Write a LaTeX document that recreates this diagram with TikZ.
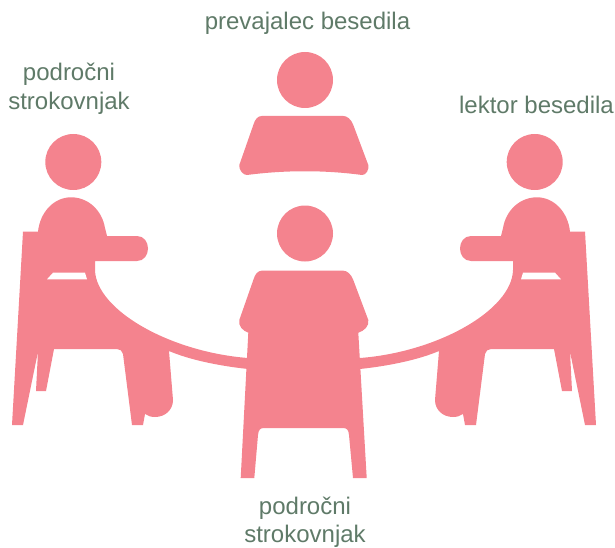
\documentclass[tikz,border=0pt]{standalone}
\usepackage{fontspec}
\setmainfont{Liberation Sans}
\definecolor{seatpink}{HTML}{F4838E}
\definecolor{labelgreen}{HTML}{5F7A68}
\tikzset{
  head/.style={circle, fill=seatpink, inner sep=0pt, minimum size=56pt},
  figure/.style={fill=seatpink, draw=none},
  gap/.style={fill=white, draw=none},
  role/.style={text=labelgreen, align=center, inner sep=0pt, font=\fontsize{24}{28.5}\selectfont},
}
% one sitter seen from the side, with his part of the table
\newcommand{\sidesitter}{%
  \fill[figure] (23,231.7) -- (38,231.7)
    .. controls (40,212) and (54,197.3) .. (71,197.3)
    .. controls (88,197.3) and (102,210) .. (105,228)
    -- (107,236) -- (137,236)
    .. controls (144,236) and (148,242) .. (148,248.5)
    .. controls (148,255) and (144,261) .. (137,261)
    -- (95,261) -- (95,270)
    .. controls (96,310) and (170,352) .. (248,358)
    -- (248,369)
    .. controls (220,366) and (190,360) .. (169,351)
    -- (173,400)
    .. controls (173,410) and (165,417) .. (155,417)
    .. controls (151,417) and (148,416) .. (145,414)
    -- (143,425) -- (132,425) -- (123,354)
    .. controls (122.5,351) and (120,349) .. (117,349)
    -- (54,349) -- (46,391) -- (36,391) -- (38,351.7) -- (23,425) -- (12,425) -- cycle;
  \fill[gap] (53,272.7) -- (85,272.7) -- (87,279.3) -- (47,279.3) -- cycle;
}
\begin{document}
\begin{tikzpicture}[x=1pt, y=-1pt]
    \useasboundingbox (0,0) rectangle (615,548);
    % Draw side sitters
    \sidesitter
    \begin{scope}[xshift=608pt, xscale=-1]
      \sidesitter
    \end{scope}
    \node[head] (headL) at (73.3,162) {};
    \node[head] (headR) at (534.7,162) {};
    % Draw sitter at the back
    \node[head] (headT) at (305,80) {};
    \fill[figure] (239.3,165)
      .. controls (238.5,169) and (243,175.5) .. (247,175)
      .. controls (285,170) and (325,170) .. (362,175)
      .. controls (366,175.5) and (369.5,169) .. (368.3,165)
      -- (353.3,125)
      .. controls (351,119) and (347,116) .. (343.3,116)
      -- (261.7,116)
      .. controls (258,116) and (255,119) .. (253.3,125)
      -- cycle;
    % Draw sitter in front
    \node[head] (headC) at (305,233.5) {};
    \fill[figure] (239.3,320)
      .. controls (238,326) and (243,331) .. (248.3,332.7)
      -- (240.7,478) -- (254.3,478) -- (258,435)
      .. controls (258.5,430) and (260,428) .. (264,428)
      -- (343,428)
      .. controls (347,428) and (348.5,430) .. (349,435)
      -- (353,478) -- (366.7,478) -- (358.3,332.7)
      .. controls (364,331) and (369.5,326) .. (368.3,320)
      -- (353.3,280)
      .. controls (351,274) and (347,270.7) .. (343.3,270.7)
      -- (261.7,270.7)
      .. controls (258,270.7) and (255,274) .. (253.3,280)
      -- cycle;
    % Draw labels
    \node[role] (roleT) at (307.5,23) {prevajalec besedila};
    \node[role] (roleL) at (69,89) {področni\\strokovnjak};
    \node[role] (roleR) at (536.5,105) {lektor besedila};
    \node[role] (roleB) at (305,522) {področni\\strokovnjak};
\end{tikzpicture}
\end{document}
